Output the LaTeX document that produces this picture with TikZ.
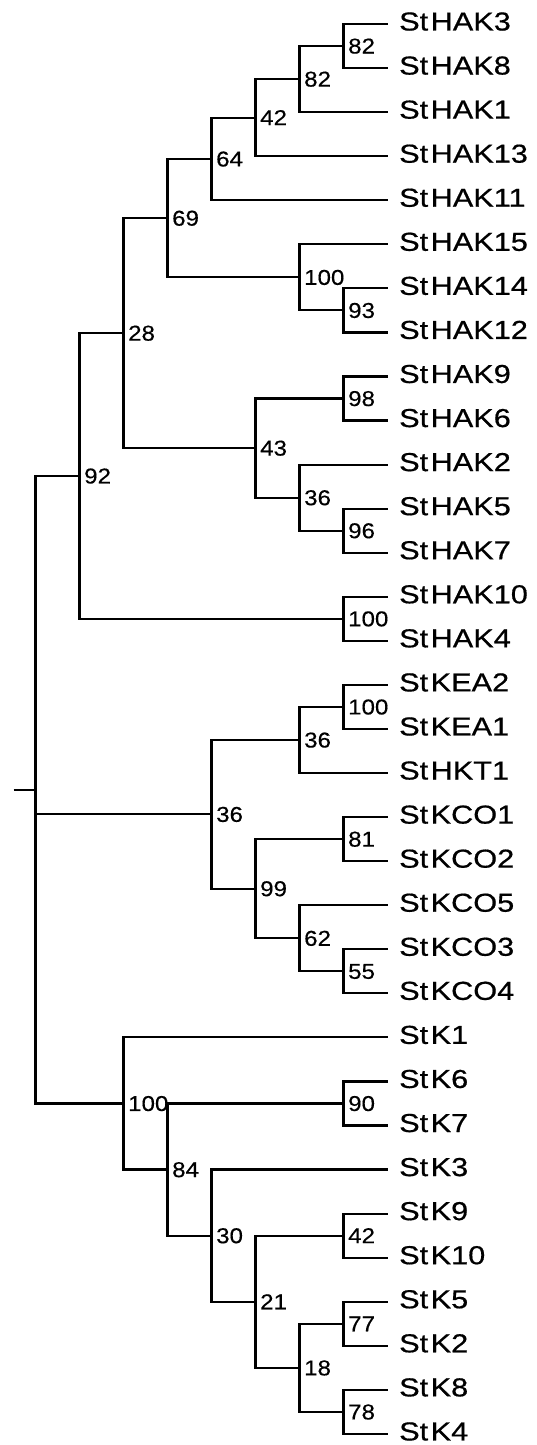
\documentclass[tikz,border=0pt]{standalone}
\usepackage{fontspec}
\newfontfamily\labfont[FakeStretch=1.18,FakeBold=0.6]{Liberation Sans}
\newfontfamily\numfont[FakeStretch=1.12,FakeBold=0.4]{Liberation Sans}
\begin{document}
\begin{tikzpicture}[x=1pt,y=-1pt,
  br/.style={draw=black,line width=2.2pt},
  leaflab/.style={anchor=base west,inner sep=0pt,font=\labfont\fontsize{26}{30}\selectfont},
  bs/.style={anchor=base west,inner sep=0pt,font=\numfont\fontsize{21.5}{24}\selectfont}]
\useasboundingbox (0,0) rectangle (536,1445);
% leaf tips
\foreach \i/\yy in {0/24.0,1/68.06,2/112.12,3/156.18,4/200.24,5/244.3,6/288.36,7/332.42,8/376.48,9/420.54,10/464.6,11/508.66,12/552.72,13/596.78,14/640.84,15/684.9,16/728.96,17/773.02,18/817.08,19/861.14,20/905.2,21/949.26,22/993.32,23/1037.38,24/1081.44,25/1125.5,26/1169.56,27/1213.62,28/1257.68,29/1301.74,30/1345.8,31/1389.86,32/1433.92}
  {\coordinate (t\i) at (387.5,\yy);}
% leaf labels
\foreach \i/\txt in {0/HAK3,1/HAK8,2/HAK1,3/HAK13,4/HAK11,5/HAK15,6/HAK14,7/HAK12,8/HAK9,9/HAK6,10/HAK2,11/HAK5,12/HAK7,13/HAK10,14/HAK4,15/KEA2,16/KEA1,17/HKT1,18/KCO1,19/KCO2,20/KCO5,21/KCO3,22/KCO4,23/K1,24/K6,25/K7,26/K3,27/K9,28/K10,29/K5,30/K2,31/K8,32/K4}
  {\node[leaflab] (l\i) at ([xshift=11.5pt,yshift=-6.5pt]t\i) {St\kern2.5pt\txt};}
% internal nodes
\coordinate (stub) at (13.5,789.72);
\coordinate (root) at (35.5,789.72);
\coordinate (n92) at (79.5,475.96);
\coordinate (n28) at (123.5,333.11);
\coordinate (n69) at (167.5,218.14);
\coordinate (n64) at (211.5,158.94);
\coordinate (n42) at (255.5,117.63);
\coordinate (n82b) at (299.5,79.08);
\coordinate (n82a) at (343.5,46.03);
\coordinate (n100a) at (299.5,277.35);
\coordinate (n93) at (343.5,310.39);
\coordinate (n43) at (255.5,448.08);
\coordinate (n98) at (343.5,398.51);
\coordinate (n36a) at (299.5,497.65);
\coordinate (n96) at (343.5,530.69);
\coordinate (n100b) at (343.5,618.81);
\coordinate (n36c) at (211.5,814.33);
\coordinate (n36b) at (299.5,739.98);
\coordinate (n100c) at (343.5,706.93);
\coordinate (n99) at (255.5,888.68);
\coordinate (n81) at (343.5,839.11);
\coordinate (n62) at (299.5,938.25);
\coordinate (n55) at (343.5,971.29);
\coordinate (n100d) at (123.5,1103.47);
\coordinate (n84) at (167.5,1169.56);
\coordinate (n90) at (343.5,1103.47);
\coordinate (n30) at (211.5,1235.65);
\coordinate (n21) at (255.5,1301.74);
\coordinate (n42b) at (343.5,1235.65);
\coordinate (n18) at (299.5,1367.83);
\coordinate (n77) at (343.5,1323.77);
\coordinate (n78) at (343.5,1411.89);
% branches
\draw[br] (stub) -- (root);
\foreach \p/\c in {root/n92,root/n36c,root/n100d,
  n92/n28,n92/n100b,n28/n69,n28/n43,n69/n64,n69/n100a,
  n64/n42,n64/t4,n42/n82b,n42/t3,n82b/n82a,n82b/t2,n82a/t0,n82a/t1,
  n100a/t5,n100a/n93,n93/t6,n93/t7,
  n43/n98,n43/n36a,n98/t8,n98/t9,n36a/t10,n36a/n96,n96/t11,n96/t12,
  n100b/t13,n100b/t14,
  n36c/n36b,n36c/n99,n36b/n100c,n36b/t17,n100c/t15,n100c/t16,
  n99/n81,n99/n62,n81/t18,n81/t19,n62/t20,n62/n55,n55/t21,n55/t22,
  n100d/t23,n100d/n84,n84/n90,n84/n30,n90/t24,n90/t25,
  n30/t26,n30/n21,n21/n42b,n21/n18,n42b/t27,n42b/t28,
  n18/n77,n18/n78,n77/t29,n77/t30,n78/t31,n78/t32}
  {\draw[br] (\p) |- (\c);}
% bootstrap values
\foreach \n/\v in {n92/92,n28/28,n69/69,n64/64,n42/42,n82b/82,n82a/82,n100a/100,n93/93,
  n43/43,n98/98,n36a/36,n96/96,n100b/100,n36c/36,n36b/36,n100c/100,n99/99,n81/81,
  n62/62,n55/55,n100d/100,n84/84,n90/90,n30/30,n21/21,n42b/42,n18/18,n77/77,n78/78}
  {\node[bs] (b\n) at ([xshift=4.5pt,yshift=-7.5pt]\n) {\v};}
\end{tikzpicture}
\end{document}
